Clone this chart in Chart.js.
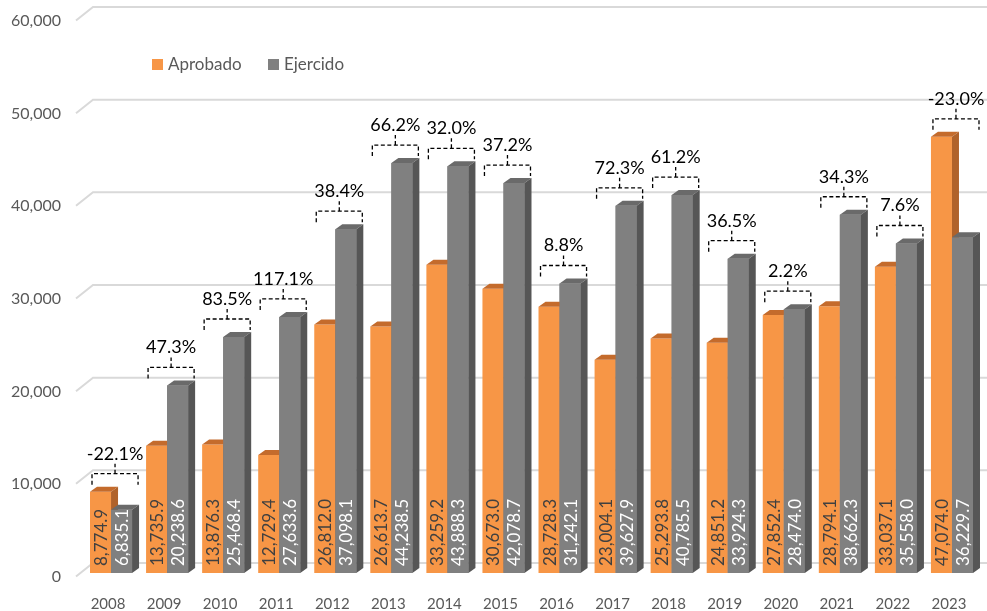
<!DOCTYPE html>
<html>
<head>
<meta charset="utf-8">
<script src="https://cdn.jsdelivr.net/npm/chart.js@4.4.1/dist/chart.umd.min.js"></script>
<style>
html, body { margin: 0; padding: 0; background: #fff; }
</style>
</head>
<body>
<canvas id="budgetChart" width="987" height="611"></canvas>
<script>
// DATA

const years = ["2008", "2009", "2010", "2011", "2012", "2013", "2014", "2015",
    "2016", "2017", "2018", "2019", "2020", "2021", "2022", "2023"];

const aprobado = [8774.9, 13735.9, 13876.3, 12729.4, 26812.0, 26613.7, 33259.2, 30673.0,
    28728.3, 23004.1, 25293.8, 24851.2, 27852.4, 28794.1, 33037.1, 47074.0];

const ejercido = [6835.1, 20238.6, 25468.4, 27633.6, 37098.1, 44238.5, 43888.3, 42078.7,
    31242.1, 39627.9, 40785.5, 33924.3, 28474.0, 38662.3, 35558.0, 36229.7];

const variacion = ["-22.1%", "47.3%", "83.5%", "117.1%", "38.4%", "66.2%", "32.0%", "37.2%",
    "8.8%", "72.3%", "61.2%", "36.5%", "2.2%", "34.3%", "7.6%", "-23.0%"];

const yTicks = [0, 10000, 20000, 30000, 40000, 50000, 60000];


// STYLE

const FONT = "Lato, 'Open Sans', sans-serif";
const DX = 7;
const DY = 5;

const faces = [
    { front: "#F79646", top: "#C46B2C", side: "#B0622A" },
    { front: "#808080", top: "#6A6A6A", side: "#565656" }
];

const fmt = new Intl.NumberFormat("en-US", { minimumFractionDigits: 1, maximumFractionDigits: 1 });


// 3D FACES OF ONE BAR

function drawFaces(ctx, bar, c) {
    const p = bar.getProps(["x", "y", "base", "width"], true);
    const l = p.x - p.width / 2;
    const r = p.x + p.width / 2;
    ctx.fillStyle = c.top;
    ctx.beginPath();
    ctx.moveTo(l, p.y);
    ctx.lineTo(l + DX, p.y - DY);
    ctx.lineTo(r + DX, p.y - DY);
    ctx.lineTo(r, p.y);
    ctx.closePath();
    ctx.fill();
    ctx.fillStyle = c.side;
    ctx.beginPath();
    ctx.moveTo(r, p.y);
    ctx.lineTo(r + DX, p.y - DY);
    ctx.lineTo(r + DX, p.base - DY);
    ctx.lineTo(r, p.base);
    ctx.closePath();
    ctx.fill();
}


// GRID, 3D BARS, LABELS

const barsPlugin = {

    id: "bars3d",

    beforeDatasetsDraw(chart) {
        const ctx = chart.ctx;
        const yScale = chart.scales.y;
        ctx.save();
        ctx.strokeStyle = "#D9D9D9";
        ctx.lineWidth = 2;
        yTicks.forEach(v => {
            const y = yScale.getPixelForValue(v);
            ctx.beginPath();
            ctx.moveTo(76, y + 3.5);
            ctx.lineTo(93, y - 10);
            ctx.lineTo(chart.width, y - 10);
            ctx.stroke();
        });
        ctx.restore();
    },

    afterDatasetsDraw(chart) {
        const ctx = chart.ctx;
        const m0 = chart.getDatasetMeta(0);
        const m1 = chart.getDatasetMeta(1);

        // depth: orange faces, then grey bar over them
        ctx.save();
        m0.data.forEach((a, i) => {
            const b = m1.data[i];
            drawFaces(ctx, a, faces[0]);
            b.draw(ctx);
            drawFaces(ctx, b, faces[1]);
        });
        ctx.restore();

        // values inside the bars
        ctx.save();
        ctx.font = "17px " + FONT;
        ctx.textAlign = "left";
        ctx.textBaseline = "middle";
        [m0, m1].forEach((meta, di) => {
            ctx.fillStyle = di === 0 ? "#404040" : "#FFFFFF";
            meta.data.forEach((bar, i) => {
                const p = bar.getProps(["x", "base"], true);
                const v = chart.data.datasets[di].data[i];
                ctx.save();
                ctx.translate(p.x + 1, p.base - 7);
                ctx.rotate(-Math.PI / 2);
                ctx.fillText(fmt.format(v), 0, 0);
                ctx.restore();
            });
        });
        ctx.restore();

        // brackets with the variation
        ctx.save();
        ctx.strokeStyle = "#000";
        ctx.lineWidth = 1.3;
        ctx.setLineDash([4, 2.5]);
        ctx.fillStyle = "#000";
        ctx.font = "18px " + FONT;
        ctx.textAlign = "center";
        ctx.textBaseline = "alphabetic";
        m0.data.forEach((a, i) => {
            const b = m1.data[i];
            const pa = a.getProps(["x", "y", "width"], true);
            const pb = b.getProps(["x", "y", "width"], true);
            const top = Math.min(pa.y, pb.y);
            const hy = top - 18;
            const left = pa.x - pa.width / 2 + 2;
            const right = pb.x + pb.width / 2 + DX - 1;
            const cx = (left + right) / 2;
            ctx.beginPath();
            ctx.moveTo(left, hy + 11);
            ctx.lineTo(left, hy);
            ctx.lineTo(right, hy);
            ctx.lineTo(right, hy + 11);
            ctx.moveTo(cx, hy);
            ctx.lineTo(cx, hy - 10);
            ctx.stroke();
            ctx.fillText(variacion[i], cx, hy - 14);
        });
        ctx.restore();
    },

    afterDraw(chart) {
        const ctx = chart.ctx;
        ctx.save();
        ctx.font = "17px " + FONT;
        ctx.textBaseline = "middle";
        ctx.textAlign = "left";
        const items = [
            { x: 152, label: chart.data.datasets[0].label, color: faces[0].front },
            { x: 268, label: chart.data.datasets[1].label, color: faces[1].front }
        ];
        items.forEach(it => {
            ctx.fillStyle = it.color;
            ctx.fillRect(it.x, 59, 11, 11);
            ctx.fillStyle = "#595959";
            ctx.fillText(it.label, it.x + 16, 65);
        });
        ctx.restore();
    }
};


// CHART

const ctx = document.getElementById("budgetChart");

new Chart(ctx, {

    type: "bar",

    data: {

        labels: years,

        datasets: [
            {
                label: "Aprobado",
                data: aprobado,
                backgroundColor: faces[0].front,
                borderWidth: 0,
                barPercentage: 1,
                categoryPercentage: 0.75
            },
            {
                label: "Ejercido",
                data: ejercido,
                backgroundColor: faces[1].front,
                borderWidth: 0,
                barPercentage: 1,
                categoryPercentage: 0.75
            }
        ]
    },

    options: {

        responsive: false,

        devicePixelRatio: 1,

        animation: false,

        layout: {
            padding: { top: 17, right: 7, left: 0, bottom: 0 }
        },

        plugins: {
            legend: { display: false },
            tooltip: { enabled: false }
        },

        scales: {

            x: {
                grid: { display: false },
                border: { display: false },
                ticks: {
                    color: "#595959",
                    font: { family: FONT, size: 15 },
                    padding: 14,
                    labelOffset: -3,
                    maxRotation: 0
                },
                afterFit: s => { s.height = 38; }
            },

            y: {
                min: 0,
                max: 60000,
                grid: { display: false, drawTicks: false },
                border: { display: false },
                ticks: {
                    stepSize: 10000,
                    color: "#595959",
                    font: { family: FONT, size: 16 },
                    padding: 22,
                    labelOffset: 4,
                    callback: v => v.toLocaleString("en-US")
                },
                afterFit: s => {
                    s.width = 83;
                    s.paddingTop = 0;
                    s.paddingBottom = 0;
                }
            }
        }
    },

    plugins: [barsPlugin]
});
</script>
</body>
</html>
